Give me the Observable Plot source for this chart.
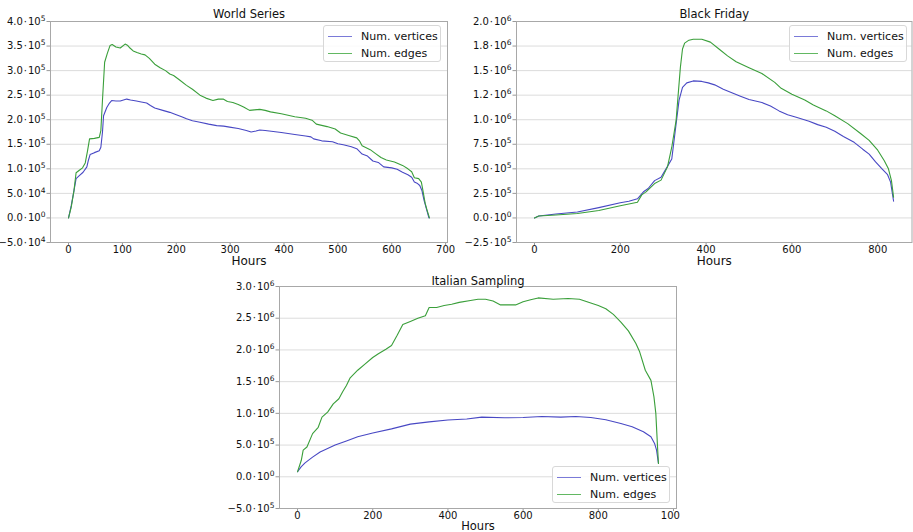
<!DOCTYPE html>
<html><head><meta charset="utf-8">
<script src="https://cdn.jsdelivr.net/npm/d3@7"></script>
<script src="https://cdn.jsdelivr.net/npm/@observablehq/plot@0.6"></script>
<style>
body{margin:0;background:#fff;font-family:"DejaVu Sans",sans-serif;}
#fig{position:relative;width:913px;height:532px;overflow:hidden;background:#fff;}
.panel{position:absolute;overflow:hidden;}
.panel svg{overflow:hidden;}
.legend{position:absolute;box-sizing:border-box;border:1px solid #d8d8d8;border-radius:3px;background:rgba(255,255,255,0.85);font-size:11px;color:#111;white-space:nowrap;}
.legend .row{position:absolute;left:0;height:16px;display:flex;align-items:center;white-space:nowrap;}
.legend .sw{width:24px;height:0;border-top:1.3px solid;margin-left:4px;margin-right:9px;flex:none;}
</style></head>
<body><div id="fig"></div>
<script>
// ---------- World Series ----------
const wsEdgeHours = [0,5,10,14,20,26,31,35,39,48,57,60,63,67,72,77,81,88,96,105,110,114,120,127,135,142,150,160,170,180,188,195,205,219,230,244,255,268,278,287,295,305,315,325,336,345,355,365,375,395,420,440,452,460,480,495,505,520,535,540,545,560,570,580,590,605,620,630,637,642,650,655,658,662,665,670];
const wsEdges = [0,22,55,92,97,102,112,135,161,162,164,178,240,317,335,351,353,348,346,354,351,346,340,337,334,332,325,313,306,300,293,290,282,270,262,250,244,239,242,242,237,235,231,226,219,220,221,219,216,212,206,203,199,191,186,181,173,168,163,157,147,139,131,123,118,114,107,100,94,82,80,73,55,30,18,0].map(v => v * 1000);
const wsVertexHours = [0,5,10,14,20,27,34,37,40,48,57,60,63,65,71,76,80,88,96,102,108,115,126,135,145,152,160,175,188,200,210,219,230,244,260,275,288,299,315,330,339,348,355,365,380,395,420,440,450,455,470,490,500,510,525,535,545,555,565,575,585,600,610,620,630,637,642,648,652,656,660,664,669];
const wsVertices = [0,25,55,80,86,93,104,118,129,133,137,144,175,208,225,234,239,238,238,240,242,240,238,236,234,229,224,219,215,210,206,202,198,195,191,188,187,185,182,178,175,177,179,178,176,174,170,167,165,161,157,155,151,149,145,141,130,126,116,113,104,102,99,93,88,83,73,70,66,56,36,20,0].map(v => v * 1000);
const wsYTicks = [-5e4,0,5e4,1e5,1.5e5,2e5,2.5e5,3e5,3.5e5,4e5];
const wsYLabels = ["−5.0·10⁴","0.0·10⁰","5.0·10⁴","1.0·10⁵","1.5·10⁵","2.0·10⁵","2.5·10⁵","3.0·10⁵","3.5·10⁵","4.0·10⁵"];
const wsXTicks = [0,100,200,300,400,500,600,700];

// ---------- Black Friday ----------
const bfEdgeHours = [0,10,50,100,150,200,240,250,260,280,295,310,320,330,340,345,350,360,370,390,410,430,450,470,500,530,560,575,600,630,650,680,700,730,760,780,800,815,825,832,837];
const bfEdges = [0,0.02,0.03,0.045,0.075,0.125,0.16,0.235,0.265,0.35,0.385,0.52,0.72,0.99,1.53,1.72,1.78,1.81,1.82,1.82,1.79,1.72,1.65,1.59,1.53,1.47,1.38,1.32,1.26,1.20,1.15,1.09,1.04,0.96,0.86,0.79,0.69,0.585,0.50,0.38,0.21].map(v => v * 1e6);
const bfVertexHours = [0,10,50,100,150,200,220,240,255,265,280,295,310,320,330,337,345,355,370,390,405,420,440,460,480,500,530,550,570,590,610,640,660,680,700,720,745,765,780,795,810,823,830,837];
const bfVertices = [0,0.02,0.04,0.06,0.105,0.155,0.17,0.195,0.27,0.30,0.38,0.415,0.525,0.60,0.955,1.2,1.33,1.375,1.395,1.39,1.375,1.355,1.31,1.275,1.24,1.205,1.175,1.14,1.09,1.05,1.025,0.985,0.95,0.924,0.883,0.83,0.77,0.70,0.65,0.57,0.50,0.44,0.365,0.17].map(v => v * 1e6);
const bfYTicks = [-2.5e5,0,2.5e5,5e5,7.5e5,1e6,1.25e6,1.5e6,1.75e6,2e6];
const bfYLabels = ["−2.5·10⁵","0.0·10⁰","2.5·10⁵","5.0·10⁵","7.5·10⁵","1.0·10⁶","1.2·10⁶","1.5·10⁶","1.8·10⁶","2.0·10⁶"];
const bfXTicks = [0,200,400,600,800];

// ---------- Italian Sampling ----------
const itEdgeHours = [0,10,15,25,40,55,65,80,95,110,120,130,140,160,180,200,215,235,250,265,280,300,320,340,350,370,390,410,430,460,480,500,520,540,560,580,600,620,640,680,720,750,780,800,820,840,860,880,900,910,925,940,948,953,958,960];
const itEdges = [0.08,0.26,0.42,0.47,0.68,0.78,0.94,1.02,1.15,1.23,1.34,1.44,1.56,1.68,1.78,1.88,1.94,2.01,2.07,2.23,2.40,2.45,2.50,2.54,2.67,2.67,2.70,2.72,2.75,2.78,2.80,2.80,2.77,2.71,2.71,2.71,2.76,2.79,2.82,2.80,2.81,2.80,2.74,2.70,2.65,2.56,2.44,2.30,2.10,1.97,1.68,1.52,1.26,1.0,0.42,0.21].map(v => v * 1e6);
const itVertexHours = [0,10,20,40,60,80,100,130,160,200,250,300,350,400,450,490,550,600,650,700,740,780,820,860,890,920,940,950,955,960];
const itVertices = [0.08,0.16,0.22,0.31,0.39,0.445,0.50,0.565,0.63,0.69,0.755,0.83,0.865,0.895,0.91,0.94,0.93,0.935,0.95,0.94,0.95,0.935,0.90,0.84,0.79,0.71,0.63,0.52,0.42,0.21].map(v => v * 1e6);
const itYTicks = [-5e5,0,5e5,1e6,1.5e6,2e6,2.5e6,3e6];
const itYLabels = ["−5.0·10⁵","0.0·10⁰","5.0·10⁵","1.0·10⁶","1.5·10⁶","2.0·10⁶","2.5·10⁶","3.0·10⁶"];
const itXTicks = [0,200,400,600,800,1000];

const seriesNames = ["Num. vertices", "Num. edges"];
const BLUE = "#4848c4", GREEN = "#3a9f3a";
const LEG_BLUE = "#7a7ad8", LEG_GREEN = "#62b862";
const SUP = {"⁰":"0","¹":"1","²":"2","³":"3","⁴":"4","⁵":"5","⁶":"6","⁷":"7","⁸":"8","⁹":"9"};

function rows(hs, vs) { return hs.map((h, i) => ({h, v: vs[i]})); }

function prettify(svg) {
  // render "m·10ⁿ" labels as mantissa · 10 with a raised exponent
  const NS = "http://www.w3.org/2000/svg";
  svg.querySelectorAll('g[aria-label="y-axis tick label"] text').forEach(t => {
    const s = t.textContent;
    const m = s.match(/^(.*)·10(.)$/);
    if (!m) return;
    t.textContent = "";
    const a = document.createElementNS(NS, "tspan"); a.textContent = m[1] + "\u200A·\u200A10";
    const b = document.createElementNS(NS, "tspan"); b.textContent = SUP[m[2]] || m[2];
    b.setAttribute("font-size", "7.5"); b.setAttribute("dy", "-4");
    t.appendChild(a); t.appendChild(b);
  });
}

function panel(o) {
  const labelOf = new Map(o.yTicks.map((t, i) => [t, o.yLabels[i]]));
  const chart = Plot.plot({
    width: o.width, height: o.height,
    marginLeft: o.ml, marginRight: o.mr, marginTop: o.mt, marginBottom: o.mb,
    style: {fontFamily: "DejaVu Sans, sans-serif", fontSize: "10px", color: "#111", background: "#fff"},
    x: {domain: o.xDomain},
    y: {domain: o.yDomain},
    marks: [
      Plot.gridY(o.yTicks, {stroke: "#dcdcdc", strokeOpacity: 1, strokeWidth: 1}),
      Plot.axisY(o.yTicks, {tickFormat: d => labelOf.get(d), tickSize: 3.5, tickPadding: 1.5, stroke: "#999", fontSize: 10, label: null}),
      Plot.axisX(o.xTicks, {tickFormat: d => String(d), tickSize: 3, tickPadding: 0.5, stroke: "#999", fontSize: 10, label: null}),
      Plot.frame({stroke: "#a8a8a8", strokeWidth: 1}),
      Plot.line(rows(o.vh, o.vv), {x: "h", y: "v", stroke: BLUE, strokeWidth: 1.1}),
      Plot.line(rows(o.eh, o.ev), {x: "h", y: "v", stroke: GREEN, strokeWidth: 1.1}),
      Plot.text([o.title], {frameAnchor: "top", lineAnchor: "middle", dy: o.titleDy, fontSize: 11.5, fill: "#111"}),
      Plot.text(["Hours"], {frameAnchor: "bottom", lineAnchor: "middle", dy: o.hoursDy, fontSize: o.hoursSize, fill: "#111"})
    ]
  });
  prettify(chart);
  const wrap = document.createElement("div");
  wrap.className = "panel";
  wrap.style.left = o.left + "px"; wrap.style.top = o.top + "px";
  wrap.style.width = o.width + "px"; wrap.style.height = o.height + "px";
  wrap.appendChild(chart);
  const fig = document.getElementById("fig");
  fig.appendChild(wrap);
  const leg = document.createElement("div");
  leg.className = "legend";
  leg.style.left = o.leg[0] + "px"; leg.style.top = o.leg[1] + "px";
  leg.style.width = "118px"; leg.style.height = "37px";
  [[LEG_BLUE, seriesNames[0], 2], [LEG_GREEN, seriesNames[1], 19]].forEach(([c, name, t]) => {
    const r = document.createElement("div");
    r.className = "row"; r.style.top = t + "px";
    const sw = document.createElement("div"); sw.className = "sw"; sw.style.borderTopColor = c;
    const tx = document.createElement("span"); tx.textContent = name;
    r.appendChild(sw); r.appendChild(tx); leg.appendChild(r);
  });
  fig.appendChild(leg);
}

panel({left: 0, top: 0, width: 455, height: 270, ml: 50, mr: 8, mt: 21, mb: 28,
  xDomain: [-33.5, 703.5], yDomain: [-5e4, 4e5], xTicks: wsXTicks, yTicks: wsYTicks, yLabels: wsYLabels,
  eh: wsEdgeHours, ev: wsEdges, vh: wsVertexHours, vv: wsVertices,
  title: "World Series", titleDy: -7, hoursDy: 19, hoursSize: 12, leg: [323, 25]});

panel({left: 455, top: 0, width: 458, height: 270, ml: 61, mr: 1.5, mt: 21, mb: 28,
  xDomain: [-41.9, 879.9], yDomain: [-2.5e5, 2e6], xTicks: bfXTicks, yTicks: bfYTicks, yLabels: bfYLabels,
  eh: bfEdgeHours, ev: bfEdges, vh: bfVertexHours, vv: bfVertices,
  title: "Black Friday", titleDy: -7, hoursDy: 19, hoursSize: 12, leg: [789, 25]});

panel({left: 220, top: 270, width: 460, height: 262, ml: 59, mr: 4, mt: 16, mb: 24,
  xDomain: [-48, 1008], yDomain: [-5e5, 3e6], xTicks: itXTicks, yTicks: itYTicks, yLabels: itYLabels,
  eh: itEdgeHours, ev: itEdges, vh: itVertexHours, vv: itVertices,
  title: "Italian Sampling", titleDy: -5.5, hoursDy: 17.5, hoursSize: 11.5, leg: [552, 466]});
</script>
</body></html>
